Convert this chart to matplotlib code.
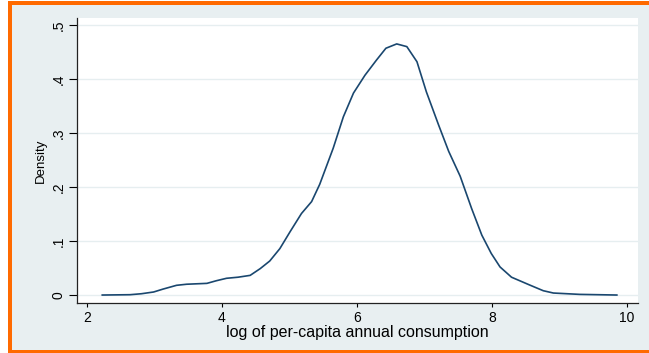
import matplotlib
matplotlib.use("Agg")
import matplotlib.pyplot as plt
from matplotlib.patches import Rectangle

# Kernel density estimate of log per-capita annual consumption
log_consumption = [2.23, 2.64, 2.81, 2.99, 3.13, 3.33, 3.48, 3.78, 3.92, 4.07,
                   4.24, 4.42, 4.57, 4.71, 4.86, 5.01, 5.18, 5.33, 5.45, 5.65,
                   5.80, 5.95, 6.12, 6.29, 6.43, 6.59, 6.74, 6.89, 7.03, 7.21,
                   7.36, 7.53, 7.70, 7.85, 7.99, 8.12, 8.29, 8.56, 8.76, 8.91,
                   9.30, 9.85]
density = [0.0, 0.0006, 0.0024, 0.0056, 0.011, 0.018, 0.020, 0.0216, 0.0265, 0.031,
           0.033, 0.0364, 0.049, 0.063, 0.086, 0.117, 0.151, 0.173, 0.205, 0.272,
           0.330, 0.374, 0.407, 0.435, 0.457, 0.465, 0.460, 0.432, 0.376, 0.315,
           0.266, 0.220, 0.160, 0.111, 0.077, 0.052, 0.033, 0.0185, 0.008, 0.0037,
           0.0012, 0.0]

x_ticks = [2, 4, 6, 8, 10]
y_ticks = [0, 0.1, 0.2, 0.3, 0.4, 0.5]
y_tick_labels = ["0", ".1", ".2", ".3", ".4", ".5"]

W, H = 649, 353
fig = plt.figure(figsize=(W / 100, H / 100), dpi=100)
fig.patch.set_facecolor("white")

# orange frame and bluish-gray graph region
fig.add_artist(Rectangle((8 / W, 0), 1, (H - 1) / H, transform=fig.transFigure,
                         facecolor="#ff6a00", edgecolor="none", zorder=0))
fig.add_artist(Rectangle((12.3 / W, 3.5 / H), 1, (H - 8.5) / H, transform=fig.transFigure,
                         facecolor="#e8eff1", edgecolor="none", zorder=0))

font = "Liberation Sans"
ax = fig.add_axes([77 / W, (H - 302.7) / H, (638 - 77) / W, (302.7 - 18) / H])
ax.set_facecolor("white")
ax.plot(log_consumption, density, color="#1a476f", lw=1.2, zorder=3)

ax.set_xlim(1.856, 10.163)
ax.set_ylim(-0.0142, 0.513)
ax.set_xticks(x_ticks)
ax.set_xticklabels([str(t) for t in x_ticks], fontfamily=font, fontsize=10)
ax.set_yticks(y_ticks)
ax.set_yticklabels(y_tick_labels, fontfamily=font, fontsize=10, rotation=90, va="center")
ax.tick_params(axis="x", length=3, width=0.8, pad=3, colors="black")
ax.tick_params(axis="y", length=5.5, width=0.8, pad=2.5, colors="black")

ax.grid(axis="y", color="#e6eef0", lw=1.0, zorder=1)
ax.set_axisbelow(True)
for side in ("top", "right"):
    ax.spines[side].set_visible(False)
for side in ("left", "bottom"):
    ax.spines[side].set_linewidth(0.9)
    ax.spines[side].set_color("#222222")

ax.set_xlabel("log of per-capita annual consumption", fontfamily=font, fontsize=11.5, labelpad=0)
ax.set_ylabel("Density", fontfamily=font, fontsize=9.5, labelpad=3.5)

fig.savefig("out.png", dpi=100, facecolor=fig.get_facecolor())
